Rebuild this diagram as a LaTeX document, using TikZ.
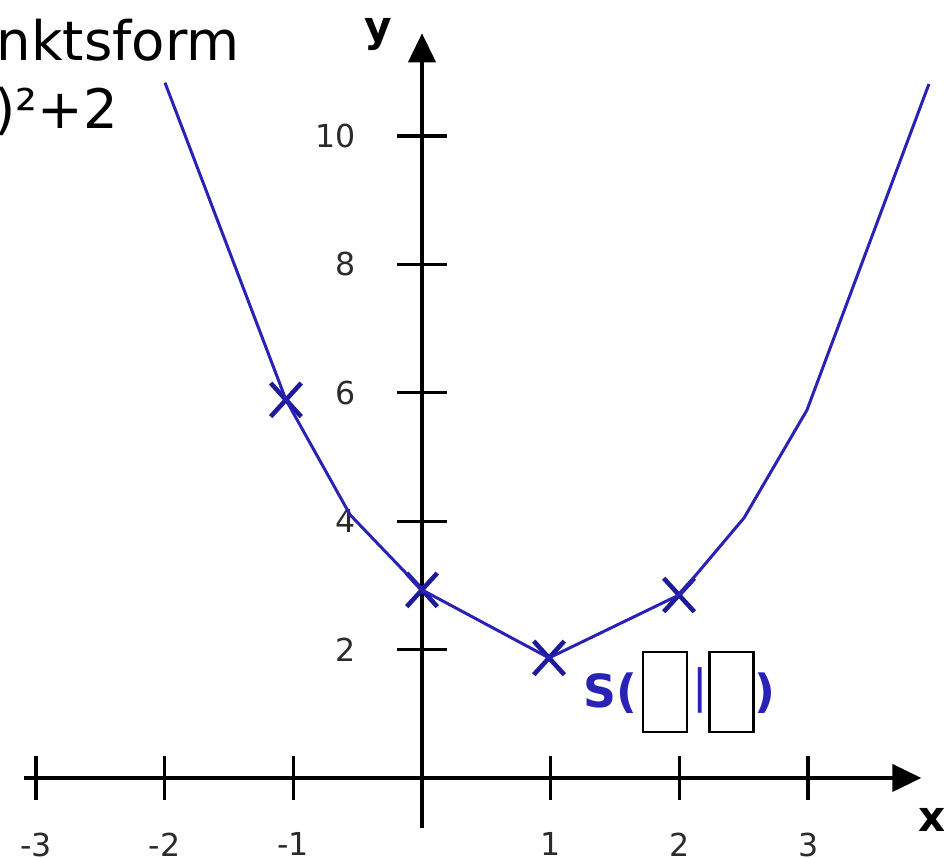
\documentclass[tikz,border=0pt]{standalone}
\usepackage{fontspec}
\setmainfont{DejaVu Sans}
\usepackage{tikz}
\usetikzlibrary{arrows.meta, shapes.misc}
\definecolor{graphblue}{HTML}{2A22B4}
\definecolor{crossblue}{HTML}{1E1A9A}
\definecolor{labelgray}{HTML}{2B2B2B}

\begin{document}
\begin{tikzpicture}[x=2.574cm, y=1.284cm,
    axis/.style={line width=2.3pt, -{Triangle[length=5.8mm, width=5.4mm]}},
    tickline/.style={line width=1.9pt},
    ticklabel/.style={font=\fontsize{18}{20}\selectfont, text=labelgray, inner sep=0pt},
    graph/.style={graphblue, line width=1.7pt, line join=round},
    pointmark/.style={cross out, draw=crossblue, line width=2.6pt, minimum width=5.2mm, minimum height=5.8mm, inner sep=0pt},
    blank/.style={draw, line width=1.5pt, fill=white, minimum width=8.8mm, minimum height=16mm, inner sep=0pt}]

    % frame of the cut-out
    \useasboundingbox (-3.279,-1.246) rectangle (4.056,12.118);
    \clip (-3.279,-1.246) rectangle (4.056,12.118);

    % ── HEADING (cut off on the left) ─────────────────────────────────
    \node[anchor=base east, inner sep=0pt, font=\fontsize{31}{37}\selectfont] (heading) at (-1.414,11.18) {nktsform};
    \node[anchor=base east, inner sep=0pt, font=\fontsize{31}{37}\selectfont] (formula) at (-2.362,10.12) {)²+2};

    % ── AXES ──────────────────────────────────────────────────────────
    \coordinate (xstart) at (-3.09,0);
    \coordinate (xend) at (3.88,0);
    \coordinate (ystart) at (0,-0.78);
    \coordinate (yend) at (0,11.6);
    \draw[axis] (xstart) -- (xend);
    \draw[axis] (ystart) -- (yend);
    \node[font=\bfseries\fontsize{24}{28}\selectfont, inner sep=0pt] (xlabel) at (3.96,-0.66) {x};
    \node[font=\bfseries\fontsize{24}{28}\selectfont, inner sep=0pt] (ylabel) at (-0.342,11.58) {y};

    % ticks and numbers
    \foreach \k in {-3,-2,-1,1,2,3} {
        \draw[tickline] (\k,-0.34) -- (\k,0.34);
        \node[ticklabel, anchor=north] (xtick\k) at (\k,-0.85) {\k};
    }
    \foreach \k in {2,4,6,8,10} {
        \draw[tickline] (-0.194,\k) -- (0.194,\k);
        \node[ticklabel, anchor=east] (ytick\k) at (-0.513,\k) {\k};
    }

    % ── PARABOLA ──────────────────────────────────────────────────────
    \node[pointmark] (pa) at (-1.057,5.89) {};
    \node[pointmark] (pb) at (0,2.93) {};
    \node[pointmark] (vertex) at (0.987,1.87) {};
    \node[pointmark] (pc) at (1.997,2.85) {};

    \draw[graph] (-1.997,10.83) -- (pa.center) -- (-0.559,4.10) -- (pb.center)
        -- (vertex.center) -- (pc.center) -- (2.502,4.05) -- (2.991,5.73) -- (3.939,10.81);

    % vertex to fill in
    \node[anchor=west, inner sep=0pt, text=graphblue, font=\bfseries\fontsize{26}{30}\selectfont] (slabel) at (1.252,1.32) {S(};
    \node[blank] (sx) at (1.888,1.34) {};
    \node[text=graphblue, inner sep=0pt, font=\fontsize{26}{30}\selectfont] (bar) at (2.16,1.37) {|};
    \node[blank] (sy) at (2.405,1.34) {};
    \node[text=graphblue, inner sep=0pt, font=\bfseries\fontsize{26}{30}\selectfont] (closing) at (2.665,1.32) {)};
\end{tikzpicture}
\end{document}
